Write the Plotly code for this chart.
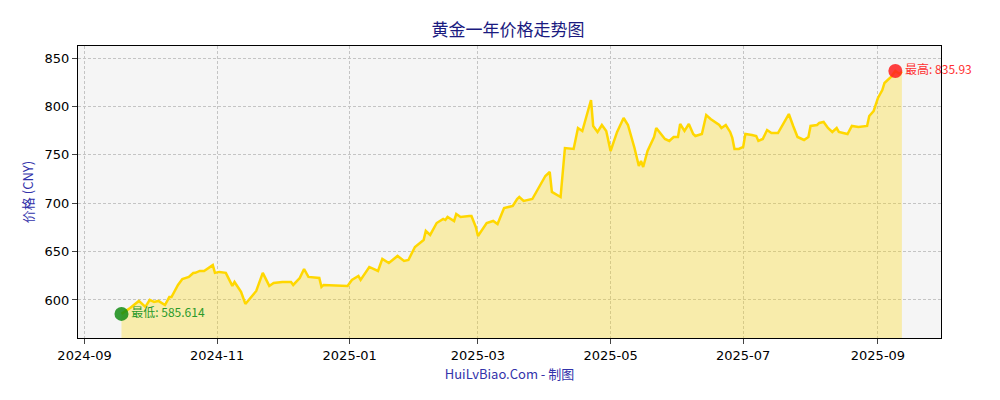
import pandas as pd
import plotly.graph_objects as go

# days since 2024-09-01
day_offsets = [17, 21, 25, 28, 30, 32, 34, 37, 39, 40, 43, 45, 48, 50, 51, 53, 55, 59, 60, 62,
               65, 68, 69, 72, 74, 79, 82, 85, 87, 91, 95, 96, 99, 101, 103, 108, 109, 110, 121, 123,
               126, 127, 131, 135, 137, 140, 144, 147, 149, 152, 156, 157, 159, 162, 165, 166, 167, 170, 171, 173,
               177, 178, 180, 181, 185, 188, 190, 193, 197, 199, 200, 202, 206, 207, 209, 212, 214, 215, 219, 221,
               225, 227, 229, 233, 234, 236, 238, 240, 242, 245, 248, 250, 253, 255, 256, 257, 259, 262, 263, 267,
               269, 271, 273, 274, 276, 278, 280, 281, 284, 286, 288, 291, 292, 293, 295, 297, 298, 299, 301, 303,
               304, 307, 309, 310, 312, 314, 315, 316, 319, 321, 324, 326, 328, 331, 333, 334, 337, 338, 340, 342,
               344, 346, 347, 349, 351, 353, 356, 360, 361, 363, 365, 367, 368, 371, 373, 375, 376]
prices = [585.614, 591.7, 599.0, 592.8, 600.0, 598.0, 599.0, 594.8, 603.0, 603.0, 615.5, 621.7, 623.8, 627.9, 628.0, 630.0, 630.0, 636.0, 628.0, 629.0,
          628.0, 614.5, 618.6, 608.3, 595.9, 609.3, 628.0, 614.5, 617.6, 618.6, 618.6, 615.5, 622.7, 632.0, 623.8, 622.7, 613.4, 615.5, 614.5, 620.7,
          624.8, 620.7, 634.1, 630.0, 642.4, 638.2, 645.5, 640.3, 641.3, 654.8, 662.0, 671.3, 667.2, 679.5, 683.7, 682.6, 685.7, 681.6, 688.8, 685.7,
          686.8, 686.8, 675.4, 666.1, 679.5, 681.6, 678.5, 695.0, 697.1, 704.3, 706.4, 702.3, 704.3, 708.5, 715.7, 728.1, 732.2, 711.6, 706.4, 757.0,
          756.0, 777.7, 774.6, 806.6, 779.8, 773.6, 780.8, 774.6, 753.9, 773.6, 788.0, 780.8, 757.0, 738.4, 743.6, 737.4, 753.9, 768.4, 777.7, 766.3,
          764.3, 768.4, 768.4, 781.8, 774.6, 781.8, 771.5, 769.4, 771.5, 791.1, 787.0, 781.8, 780.8, 777.7, 780.8, 773.6, 767.4, 756.0, 756.0, 758.1,
          771.5, 770.5, 769.4, 764.3, 766.3, 775.6, 773.6, 772.5, 772.5, 779.8, 792.1, 779.8, 768.4, 765.3, 768.4, 779.8, 780.8, 782.9, 783.9, 777.7,
          773.6, 777.7, 773.6, 772.5, 771.5, 779.8, 778.7, 779.8, 790.1, 795.2, 808.7, 816.9, 824.2, 830.4, 836.6, 833.5, 835.93]

dates = pd.Timestamp("2024-09-01") + pd.to_timedelta(day_offsets, unit="D")
lo_i = prices.index(min(prices))
hi_i = prices.index(max(prices))
cjk = "Noto Sans CJK SC"

fig = go.Figure()
fig.add_trace(go.Scatter(x=dates, y=prices, mode="lines", fill="tozeroy",
                         fillcolor="rgba(255,215,0,0.3)",
                         line=dict(color="#FFD700", width=2.5), showlegend=False))
fig.add_trace(go.Scatter(x=[dates[lo_i]], y=[prices[lo_i]], mode="markers+text",
                         marker=dict(color="rgba(20,140,20,0.85)", size=14),
                         text=["最低: 585.614"], textposition="middle right", cliponaxis=False,
                         textfont=dict(color="#2a9a2a", size=12, family=cjk), showlegend=False))
fig.add_trace(go.Scatter(x=[dates[hi_i]], y=[prices[hi_i]], mode="markers+text",
                         marker=dict(color="rgba(255,30,30,0.85)", size=14),
                         text=["最高: 835.93"], textposition="middle right", cliponaxis=False,
                         textfont=dict(color="#ff3030", size=12, family=cjk), showlegend=False))

axis = dict(showline=True, linecolor="black", mirror=True, ticks="outside",
            showgrid=True, gridcolor="#c4c4c4", griddash="3px,2px", gridwidth=0.8,
            tickfont=dict(color="black", size=13, family="DejaVu Sans"), zeroline=False)
fig.update_layout(
    width=1000, height=400, paper_bgcolor="white", plot_bgcolor="#f5f5f5",
    margin=dict(l=70, r=67, t=38, b=70),
    title=dict(text="黄金一年价格走势图", x=0.5, y=0.96, xanchor="center",
               font=dict(family=cjk, size=17, color="#1a1a80")),
    xaxis=dict(axis, range=["2024-08-29", "2025-09-30"], tickformat="%Y-%m", dtick="M2",
               tick0="2024-09-01",
               title=dict(text="HuiLvBiao.Com - 制图", font=dict(family=cjk, size=13, color="#3333aa"), standoff=8)),
    yaxis=dict(axis, range=[560.7, 862.4], tickvals=[600, 650, 700, 750, 800, 850],
               title=dict(text="价格 (CNY)", font=dict(family=cjk, size=13, color="#3333aa"), standoff=8)),
)
fig.write_html("out.html")
